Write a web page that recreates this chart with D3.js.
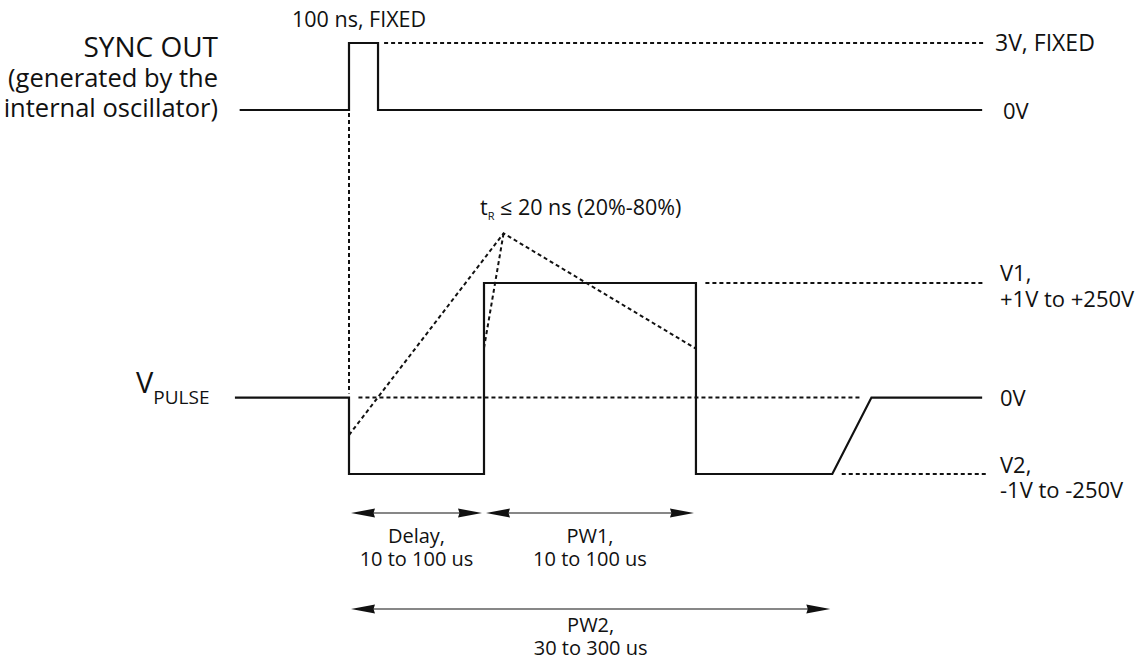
<!DOCTYPE html>
<html>
<head>
<meta charset="utf-8">
<script src="https://cdn.jsdelivr.net/npm/d3@7"></script>
<style>
  body { margin: 0; background: #fff; }
  svg text { font-family: "Open Sans", sans-serif; fill: #111; }
</style>
</head>
<body>
<svg id="chart"></svg>
<script>
// time in arbitrary units (delay = 10), pulse levels in nominal volts for drawing
const syncT = [-8.1, 0, 0, 2.15, 2.15, 46.9];
const syncV = [0, 0, 3, 3, 0, 0];

const pulseT = [-8.45, 0, 0, 10, 10, 25.7, 25.7, 35.8, 38.7, 46.9];
const pulseV = [0, 0, -100, -100, 150, 150, -100, -100, 0, 0];

// rise-time construction (dotted)
const riseT = [0, 11.45, 25.7];
const riseV = [-49, 215, 64];
const riseInnerT = [10, 11.45];
const riseInnerV = [65, 215];

// dotted reference levels
const refKind = ["sync", "pulse", "pulse", "pulse"];
const refLevel = [3, 0, 150, -100];
const refFrom = [2.6, 0.7, 26.4, 36.5];
const refTo = [47.1, 37.9, 47.0, 47.2];

// timing spans
const spanFrom = [0, 10, 0];
const spanTo = [10, 25.7, 35.8];
const spanRow = [0, 0, 1];
const spanLine1 = ["Delay,", "PW1,", "PW2,"];
const spanLine2 = ["10 to 100 us", "10 to 100 us", "30 to 300 us"];

const svgWidth = 1138;
const svgHeight = 660;

const svg = d3.select("#chart").attr("width", svgWidth).attr("height", svgHeight);

const x = d3.scaleLinear().domain([0, 10]).range([349, 484]);
const ySync = d3.scaleLinear().domain([0, 3]).range([110, 43]);
const yPulse = d3.scaleLinear().domain([-100, 150]).range([474, 283]);
const yScales = { sync: ySync, pulse: yPulse };
const rowY = [513, 609];
const rowText = [[30, 53], [23, 46]];

const line = (ys) => d3.line().x((d) => x(d[0])).y((d) => ys(d[1]));

// dotted construction lines
const dotted = svg.append("g")
  .attr("fill", "none")
  .attr("stroke", "#111")
  .attr("stroke-width", 2)
  .attr("stroke-dasharray", "4,3");

dotted.append("line")
  .attr("x1", x(0)).attr("x2", x(0))
  .attr("y1", ySync(0) + 3).attr("y2", yPulse(0) - 4);

refLevel.forEach((v, i) => {
  const ys = yScales[refKind[i]];
  dotted.append("line")
    .attr("x1", x(refFrom[i])).attr("x2", x(refTo[i]))
    .attr("y1", ys(v)).attr("y2", ys(v));
});

dotted.append("path").attr("d", line(yPulse)(d3.zip(riseT, riseV)));
dotted.append("path").attr("d", line(yPulse)(d3.zip(riseInnerT, riseInnerV)));

// waveforms
svg.append("path")
  .attr("d", line(ySync)(d3.zip(syncT, syncV)))
  .attr("fill", "none").attr("stroke", "#111").attr("stroke-width", 2.2);

svg.append("path")
  .attr("d", line(yPulse)(d3.zip(pulseT, pulseV)))
  .attr("fill", "none").attr("stroke", "#111").attr("stroke-width", 2.2);

// span arrows
const headL = 24, headW = 4.5;
spanFrom.forEach((t0, i) => {
  const x0 = x(t0) + 2;
  const x1 = x(spanTo[i]) - 2;
  const y = rowY[spanRow[i]];
  const off = rowText[spanRow[i]];
  const g = svg.append("g");
  g.append("line")
    .attr("x1", x0 + headL - 2).attr("x2", x1 - headL + 2)
    .attr("y1", y).attr("y2", y)
    .attr("stroke", "#111").attr("stroke-width", 1.2);
  g.append("path")
    .attr("d", `M${x0},${y}L${x0 + headL},${y - headW}L${x0 + headL - 1.5},${y}L${x0 + headL},${y + headW}Z`)
    .attr("fill", "#111");
  g.append("path")
    .attr("d", `M${x1},${y}L${x1 - headL},${y - headW}L${x1 - headL + 1.5},${y}L${x1 - headL},${y + headW}Z`)
    .attr("fill", "#111");
  const cx = (x0 + x1) / 2;
  g.append("text").attr("x", cx).attr("y", y + off[0])
    .attr("text-anchor", "middle").style("font-size", "20px").text(spanLine1[i]);
  g.append("text").attr("x", cx).attr("y", y + off[1])
    .attr("text-anchor", "middle").style("font-size", "20px").text(spanLine2[i]);
});

// left labels
const leftLabel = svg.append("g").attr("text-anchor", "end");
leftLabel.append("text").attr("x", 218).attr("y", 57).style("font-size", "28px").text("SYNC OUT");
leftLabel.append("text").attr("x", 218).attr("y", 87).style("font-size", "25.5px").text("(generated by the");
leftLabel.append("text").attr("x", 218).attr("y", 117).style("font-size", "25.5px").text("internal oscillator)");

const vp = svg.append("text").attr("x", 136).attr("y", 393);
vp.append("tspan").style("font-size", "29px").text("V");
vp.append("tspan").attr("dy", 11).style("font-size", "19px").text("PULSE");

// top annotations
svg.append("text").attr("x", 292).attr("y", 27).style("font-size", "21.5px").text("100 ns, FIXED");

const tr = svg.append("text").attr("x", 480).attr("y", 215).style("font-size", "21.5px");
tr.append("tspan").text("t");
tr.append("tspan").attr("dy", 5).style("font-size", "11px").text("R");
tr.append("tspan").attr("dy", -5).text(" ≤ 20 ns (20%-80%)");

// right labels
const right = svg.append("g").style("font-size", "22px");
right.append("text").attr("x", 995).attr("y", ySync(3) + 8).style("font-size", "23px").text("3V, FIXED");
right.append("text").attr("x", 1003).attr("y", ySync(0) + 9).text("0V");
right.append("text").attr("x", 1000).attr("y", yPulse(150) - 2).text("V1,");
right.append("text").attr("x", 1000).attr("y", yPulse(150) + 24).text("+1V to +250V");
right.append("text").attr("x", 1000).attr("y", yPulse(0) + 8).text("0V");
right.append("text").attr("x", 1000).attr("y", yPulse(-100) - 1).text("V2,");
right.append("text").attr("x", 1000).attr("y", yPulse(-100) + 24).text("-1V to -250V");
</script>
</body>
</html>
